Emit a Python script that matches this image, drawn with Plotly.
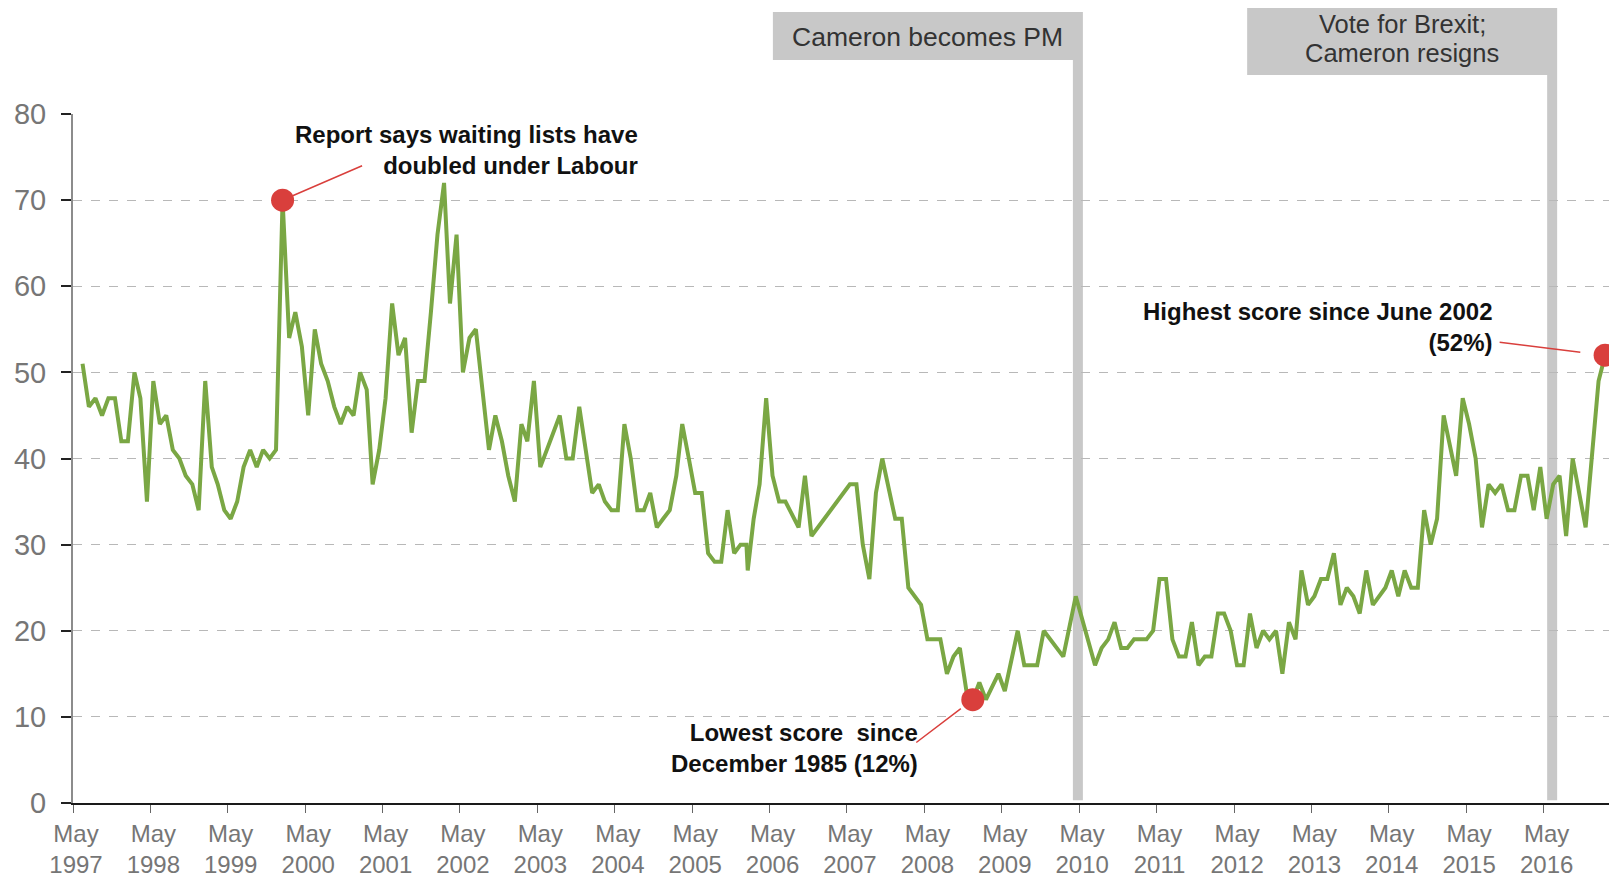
import plotly.graph_objects as go

# ---- Data (monthly survey readings; months without a visible reading are omitted) ----
months = [
    "1997-06", "1997-07", "1997-08", "1997-09", "1997-10", "1997-11", "1997-12",
    "1998-01", "1998-02", "1998-03", "1998-04", "1998-05", "1998-06", "1998-07", "1998-08", "1998-09", "1998-10", "1998-11", "1998-12",
    "1999-01", "1999-02", "1999-03", "1999-04", "1999-05", "1999-06", "1999-07", "1999-08", "1999-09", "1999-10", "1999-11", "1999-12",
    "2000-01", "2000-02", "2000-03", "2000-04", "2000-05", "2000-06", "2000-07", "2000-08", "2000-09", "2000-10", "2000-11", "2000-12",
    "2001-01", "2001-02", "2001-03", "2001-04", "2001-05", "2001-06", "2001-07", "2001-08", "2001-09", "2001-10", "2001-11", "2001-12",
    "2002-01", "2002-02", "2002-03", "2002-04", "2002-05", "2002-06", "2002-07", "2002-08", "2002-09", "2002-10", "2002-11", "2002-12",
    "2003-01", "2003-02", "2003-03", "2003-04", "2003-05", "2003-06", "2003-07", "2003-08", "2003-09", "2003-10", "2003-11", "2003-12",
    "2004-01", "2004-02", "2004-03", "2004-04", "2004-05", "2004-06", "2004-07", "2004-08", "2004-09", "2004-10", "2004-11", "2004-12",
    "2005-01", "2005-02", "2005-03", "2005-04", "2005-05", "2005-06", "2005-07", "2005-08", "2005-09", "2005-10", "2005-11", "2005-12",
    "2006-01-12", "2006-01-18", "2006-02", "2006-03", "2006-04", "2006-05", "2006-06", "2006-07", "2006-09", "2006-10", "2006-11",
    "2007-05", "2007-06", "2007-07", "2007-08", "2007-09", "2007-10", "2007-12",
    "2008-01", "2008-02", "2008-04", "2008-05", "2008-06", "2008-07", "2008-08", "2008-09", "2008-10", "2008-11", "2008-12",
    "2009-01", "2009-02", "2009-04", "2009-05", "2009-07", "2009-08", "2009-09", "2009-10", "2009-11", "2009-12",
    "2010-01", "2010-02", "2010-04", "2010-07", "2010-08", "2010-09", "2010-10", "2010-11", "2010-12",
    "2011-01", "2011-02", "2011-03", "2011-04", "2011-05", "2011-06", "2011-07", "2011-08", "2011-09", "2011-10", "2011-11", "2011-12",
    "2012-01", "2012-02", "2012-03", "2012-04", "2012-05", "2012-06", "2012-07", "2012-08", "2012-09", "2012-10", "2012-11", "2012-12",
    "2013-01", "2013-02", "2013-03", "2013-04", "2013-05", "2013-06", "2013-07", "2013-08", "2013-09", "2013-10", "2013-11", "2013-12",
    "2014-01", "2014-02", "2014-03", "2014-04", "2014-05", "2014-06", "2014-07", "2014-08", "2014-09", "2014-10", "2014-11", "2014-12",
    "2015-01", "2015-02", "2015-03", "2015-04", "2015-05", "2015-06", "2015-07", "2015-08", "2015-09", "2015-10", "2015-11", "2015-12",
    "2016-01", "2016-02", "2016-03", "2016-04", "2016-05", "2016-06", "2016-07", "2016-08", "2016-09", "2016-11",
    "2017-01", "2017-02",
]
nhs_share = [
    51, 46, 47, 45, 47, 47, 42,
    42, 50, 47, 35, 49, 44, 45, 41, 40, 38, 37, 34,
    49, 39, 37, 34, 33, 35, 39, 41, 39, 41, 40, 41,
    70, 54, 57, 53, 45, 55, 51, 49, 46, 44, 46, 45,
    50, 48, 37, 41, 47, 58, 52, 54, 43, 49, 49, 57,
    66, 72, 58, 66, 50, 54, 55, 48, 41, 45, 42, 38,
    35, 44, 42, 49, 39, 41, 43, 45, 40, 40, 46, 41,
    36, 37, 35, 34, 34, 44, 40, 34, 34, 36, 32, 33,
    34, 38, 44, 40, 36, 36, 29, 28, 28, 34, 29, 30,
    30, 27, 33, 37, 47, 38, 35, 35, 32, 38, 31,
    37, 37, 30, 26, 36, 40, 33,
    33, 25, 23, 19, 19, 19, 15, 17, 18, 13, 12,
    14, 12, 15, 13, 20, 16, 16, 16, 20, 19,
    18, 17, 24, 16, 18, 19, 21, 18, 18,
    19, 19, 19, 20, 26, 26, 19, 17, 17, 21, 16, 17,
    17, 22, 22, 20, 16, 16, 22, 18, 20, 19, 20, 15,
    21, 19, 27, 23, 24, 26, 26, 29, 23, 25, 24, 22,
    27, 23, 24, 25, 27, 24, 27, 25, 25, 34, 30, 33,
    45, 41, 38, 47, 44, 40, 32, 37, 36, 37, 34, 34,
    38, 38, 34, 39, 33, 37, 38, 31, 40, 32,
    49, 52,
]

tick_dates = ["%d-05-01" % y for y in range(1997, 2017)]
tick_labels = ["May<br>%d" % y for y in range(1997, 2017)]

event_dates = ["2010-04-25", "2016-06-10"]
event_label_lines = [["Cameron becomes PM"], ["Vote for Brexit;", "Cameron resigns"]]

highlight_months = ["2000-01", "2008-12", "2017-02"]
highlight_texts = [
    "<b>Report says waiting lists have<br>doubled under Labour</b>",
    "<b>Lowest score  since<br>December 1985 (12%)</b>",
    "<b>Highest score since June 2002<br>(52%)</b>",
]

# ---- Derived ----
x = [m if len(m) > 7 else m + "-15" for m in months]
hl_x = [m + "-15" for m in highlight_months]
hl_y = [nhs_share[months.index(m)] for m in highlight_months]

GREEN = "#7aa744"
RED = "#d93f3c"
GREYBAR = "#c8c8c8"
FONT = "Liberation Sans, Arial, sans-serif"

# The page body has the browser's default 8px margin, so the figure is drawn
# 8px in from the window's top-left corner; size the figure to fit the window.
PAGE = 8
W, H = 1617 - PAGE, 877 - PAGE
L, T, B, R = 73 - PAGE, 114 - PAGE, 74, 7
plot_h = H - T - B


def paper_y(px_from_window_top):
    return 1 + (T - (px_from_window_top - PAGE)) / plot_h


fig = go.Figure()
fig.add_trace(go.Scatter(x=x, y=nhs_share, mode="lines",
                         line=dict(color=GREEN, width=4), hoverinfo="x+y"))
fig.add_trace(go.Scatter(x=hl_x, y=hl_y, mode="markers", cliponaxis=False,
                         marker=dict(size=23, color=RED), hoverinfo="x+y"))

# event markers: grey bar + grey label box (box right edge flush with bar)
box_top_px = [12, 0]
box_bottom_px = [60, 75]
line_centers_px = [[37], [23.5, 53]]
box_fonts = [26.5, 25.5]
for d, lines, bt, bb, centers, fs in zip(event_dates, event_label_lines, box_top_px,
                                         box_bottom_px, line_centers_px, box_fonts):
    fig.add_shape(type="line", xref="x", yref="paper", x0=d, x1=d,
                  y0=0.004, y1=paper_y(bb),
                  line=dict(color=GREYBAR, width=10), layer="below")
    fig.add_shape(type="rect", xref="x", xsizemode="pixel", xanchor=d, x0=-305, x1=5,
                  yref="paper", y0=paper_y(bb), y1=paper_y(bt),
                  fillcolor=GREYBAR, line=dict(width=0), layer="below")
    for txt, c in zip(lines, centers):
        fig.add_annotation(x=d, xref="x", xanchor="center", xshift=-150,
                           y=paper_y(c), yref="paper", yanchor="middle",
                           text=txt, showarrow=False, align="center",
                           font=dict(size=fs, color="#333333", family=FONT))

# callout texts
text_pos = [("2004-08-28", 75.8), ("2008-04-08", 6.4), ("2015-09-15", 55.3)]
for (tx, ty), t in zip(text_pos, highlight_texts):
    fig.add_annotation(x=tx, y=ty, xref="x", yref="y", xanchor="right", yanchor="middle",
                       text=t, showarrow=False, align="right",
                       font=dict(size=24, color="#111111", family=FONT))

# leader lines
leaders = [(81, -35, 11), (-58, 44, 15), (-107, -13, 25)]
for hx, hy, (ax, ay, so) in zip(hl_x, hl_y, leaders):
    fig.add_annotation(x=hx, y=hy, xref="x", yref="y", text="", showarrow=True,
                       ax=ax, ay=ay, arrowhead=0, arrowwidth=1.5, arrowcolor=RED,
                       standoff=so)

fig.update_layout(
    width=W, height=H,
    margin=dict(l=L, r=R, t=T, b=B),
    plot_bgcolor="white", paper_bgcolor="white",
    showlegend=False,
    font=dict(family=FONT),
    xaxis=dict(
        type="date", range=["1997-05-01", "2017-03-10"],
        tickvals=tick_dates, ticktext=tick_labels,
        showgrid=False, zeroline=False, automargin=False,
        showline=True, linecolor="#1a1a1a", linewidth=1.5,
        ticks="outside", ticklen=8, tickcolor="#666666", tickwidth=1,
        tickfont=dict(size=24, color="#767676", family=FONT),
        ticklabelstandoff=0, ticklabelshift=3,
    ),
    yaxis=dict(
        range=[0, 80], tickvals=list(range(0, 81, 10)),
        showgrid=True, gridcolor="#b8b8b8", griddash="dash", gridwidth=1,
        zeroline=False, automargin=False,
        showline=True, linecolor="#8c8c8c", linewidth=2,
        ticks="outside", ticklen=10, tickcolor="#222222", tickwidth=1.5,
        tickfont=dict(size=29, color="#767676", family=FONT),
        ticklabelstandoff=9,
    ),
)

fig.write_html("out.html")
